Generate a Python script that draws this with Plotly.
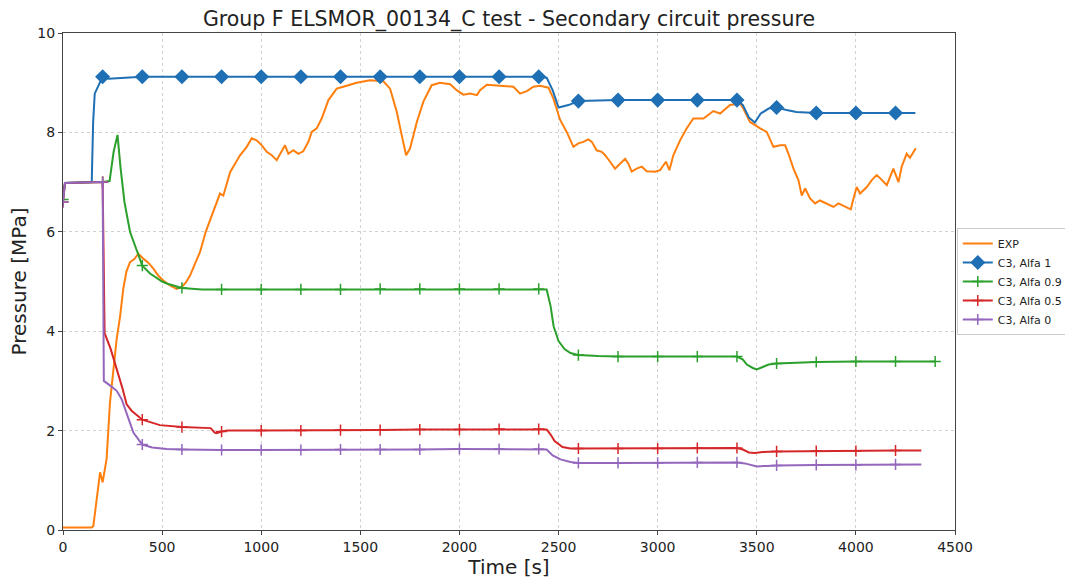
import plotly.graph_objects as go

# Experimental secondary-circuit pressure (time [s], pressure [MPa])
exp_t = [0, 50, 100, 145, 153, 170, 187, 200, 220, 237, 262, 271, 288, 304, 320, 338, 360, 380,
         405, 430, 456, 480, 506, 540, 573, 599, 620, 641, 665, 691, 720, 758, 775, 792, 809,
         843, 859, 893, 927, 952, 977, 1003, 1028, 1053, 1078, 1103, 1120, 1137, 1162, 1187,
         1212, 1238, 1255, 1280, 1305, 1339, 1381, 1414, 1450, 1481, 1549, 1616, 1650, 1684,
         1709, 1731, 1751, 1785, 1818, 1860, 1902, 1953, 1986, 2020, 2054, 2088, 2104, 2138,
         2205, 2272, 2306, 2340, 2373, 2407, 2449, 2474, 2508, 2541, 2575, 2600, 2625, 2650,
         2668, 2692, 2718, 2735, 2760, 2785, 2810, 2836, 2852, 2869, 2894, 2920, 2945, 2987,
         3012, 3042, 3059, 3079, 3113, 3146, 3180, 3231, 3281, 3315, 3365, 3416, 3432, 3466,
         3517, 3550, 3584, 3618, 3643, 3660, 3685, 3710, 3727, 3744, 3769, 3794, 3819, 3853,
         3887, 3912, 3945, 3974, 3988, 4004, 4021, 4055, 4080, 4105, 4122, 4156, 4189, 4215,
         4231, 4256, 4273, 4302]
exp_p = [0.05, 0.05, 0.05, 0.05, 0.08, 0.6, 1.16, 0.96, 1.43, 2.57, 3.58, 3.85, 4.3, 4.85, 5.2,
         5.39, 5.45, 5.56, 5.46, 5.38, 5.26, 5.12, 5.02, 4.92, 4.85, 4.89, 4.98, 5.12, 5.35,
         5.59, 6.0, 6.40, 6.6, 6.77, 6.73, 7.20, 7.31, 7.54, 7.71, 7.88, 7.84, 7.74, 7.61, 7.54,
         7.44, 7.61, 7.74, 7.57, 7.64, 7.57, 7.62, 7.81, 8.01, 8.08, 8.28, 8.65, 8.88, 8.92,
         8.97, 9.00, 9.05, 9.03, 8.88, 8.41, 7.94, 7.54, 7.68, 8.21, 8.62, 8.95, 9.00, 8.97,
         8.85, 8.76, 8.78, 8.75, 8.85, 8.96, 8.94, 8.92, 8.78, 8.83, 8.92, 8.94, 8.90, 8.68,
         8.25, 8.01, 7.71, 7.78, 7.81, 7.86, 7.81, 7.64, 7.61, 7.54, 7.41, 7.27, 7.37, 7.47,
         7.37, 7.21, 7.27, 7.31, 7.22, 7.21, 7.24, 7.41, 7.24, 7.54, 7.84, 8.08, 8.28, 8.28,
         8.43, 8.38, 8.55, 8.58, 8.48, 8.21, 8.08, 8.01, 7.71, 7.74, 7.74, 7.57, 7.27, 7.04,
         6.73, 6.87, 6.67, 6.57, 6.63, 6.57, 6.50, 6.57, 6.50, 6.45, 6.67, 6.90, 6.77, 6.90,
         7.04, 7.14, 7.08, 6.94, 7.27, 7.00, 7.31, 7.57, 7.49, 7.68]

# C3 simulation, Alfa 1
a1_t = [0, 10, 145, 152, 160, 200, 230, 300, 400, 600, 800, 1000, 1200, 1400, 1600, 1800,
        2000, 2200, 2400, 2440, 2470, 2500, 2550, 2600, 2800, 3000, 3200, 3400, 3430, 3460,
        3490, 3520, 3560, 3600, 3650, 3700, 3800, 4000, 4200, 4300]
a1_p = [6.75, 6.98, 7.0, 8.2, 8.78, 9.12, 9.08, 9.1, 9.12, 9.12, 9.12, 9.12, 9.12, 9.12, 9.12,
        9.12, 9.12, 9.12, 9.12, 9.10, 8.85, 8.5, 8.55, 8.63, 8.65, 8.65, 8.65, 8.65, 8.55, 8.3,
        8.2, 8.38, 8.48, 8.5, 8.45, 8.41, 8.39, 8.39, 8.39, 8.39]

# C3 simulation, Alfa 0.9
a09_t = [0, 10, 200, 235, 255, 275, 290, 310, 338, 380, 400, 439, 500, 523, 600, 700, 800,
         1000, 1200, 1400, 1600, 1800, 2000, 2200, 2400, 2440, 2460, 2475, 2500, 2530, 2560,
         2600, 2700, 2800, 3000, 3200, 3400, 3430, 3450, 3480, 3500, 3530, 3560, 3600, 3700,
         3800, 4000, 4200, 4400]
a09_p = [6.65, 6.98, 7.0, 7.02, 7.6, 7.95, 7.3, 6.6, 6.0, 5.53, 5.32, 5.16, 5.0, 4.96, 4.87,
         4.84, 4.84, 4.84, 4.84, 4.84, 4.85, 4.85, 4.85, 4.85, 4.85, 4.84, 4.5, 4.1, 3.8, 3.64,
         3.56, 3.52, 3.5, 3.49, 3.49, 3.49, 3.49, 3.43, 3.33, 3.26, 3.23, 3.28, 3.33, 3.35,
         3.37, 3.38, 3.39, 3.39, 3.39]

# C3 simulation, Alfa 0.5
a05_t = [0, 10, 200, 210, 240, 262, 300, 321, 346, 400, 489, 600, 700, 745, 765, 775, 800,
         830, 1000, 1200, 1400, 1600, 1800, 2000, 2200, 2400, 2440, 2460, 2480, 2520, 2560,
         2600, 2800, 3000, 3200, 3400, 3430, 3460, 3490, 3530, 3600, 3800, 4000, 4200, 4330]
a05_p = [6.6, 6.98, 7.0, 3.96, 3.65, 3.37, 2.85, 2.53, 2.40, 2.22, 2.11, 2.07, 2.06, 2.05,
         1.96, 1.95, 1.98, 2.0, 2.0, 2.0, 2.01, 2.01, 2.02, 2.02, 2.03, 2.03, 2.02, 1.92, 1.79,
         1.67, 1.64, 1.64, 1.64, 1.64, 1.65, 1.65, 1.62, 1.56, 1.55, 1.57, 1.58, 1.59, 1.59,
         1.60, 1.60]

# C3 simulation, Alfa 0
a0_t = [0, 10, 200, 206, 240, 271, 296, 330, 355, 400, 450, 523, 600, 800, 1000, 1200,
        1400, 1600, 1800, 2000, 2200, 2400, 2440, 2470, 2510, 2560, 2600, 2800, 3000, 3200,
        3400, 3440, 3480, 3500, 3550, 3600, 3800, 4000, 4200, 4330]
a0_p = [6.6, 6.98, 7.0, 3.0, 2.9, 2.80, 2.63, 2.23, 1.96, 1.72, 1.66, 1.63, 1.62, 1.61,
        1.61, 1.61, 1.62, 1.62, 1.62, 1.63, 1.63, 1.63, 1.62, 1.50, 1.42, 1.37, 1.35, 1.35,
        1.35, 1.36, 1.36, 1.34, 1.29, 1.28, 1.29, 1.30, 1.31, 1.31, 1.32, 1.32]

x_ticks = [0, 500, 1000, 1500, 2000, 2500, 3000, 3500, 4000, 4500]
y_ticks = [0, 2, 4, 6, 8, 10]

FONT = "DejaVu Sans"
fig = go.Figure()


def marked(ts, ps, start):
    # markers every 200 s, taken from the series' own samples
    mx, my = [], []
    for t, p in zip(ts, ps):
        if t >= start and t % 200 == 0:
            mx.append(t)
            my.append(p)
    return mx, my


fig.add_trace(go.Scatter(x=exp_t, y=exp_p, mode="lines", name="EXP",
                         line=dict(color="#ff7f0e", width=2)))

series = [
    ("C3, Alfa 1", a1_t, a1_p, "#1f6fb4", "diamond", 10, 200),
    ("C3, Alfa 0.9", a09_t, a09_p, "#2ca02c", "cross-thin", 8, 0),
    ("C3, Alfa 0.5", a05_t, a05_p, "#d62728", "cross-thin", 8, 0),
    ("C3, Alfa 0", a0_t, a0_p, "#9467bd", "cross-thin", 8, 0),
]

for name, ts, ps, col, sym, sz, start in series:
    fig.add_trace(go.Scatter(x=ts, y=ps, mode="lines", showlegend=False,
                             line=dict(color=col, width=2), hoverinfo="skip"))
    mx, my = marked(ts, ps, start)
    fig.add_trace(go.Scatter(x=mx, y=my, mode="markers", showlegend=False, name=name,
                             marker=dict(symbol=sym, size=sz, color=col,
                                         line=dict(color=col, width=1.5))))
    # legend entry combining line and marker
    fig.add_trace(go.Scatter(x=[None], y=[None], mode="lines+markers", name=name,
                             line=dict(color=col, width=2),
                             marker=dict(symbol=sym, size=sz, color=col,
                                         line=dict(color=col, width=1.5))))

axis_common = dict(
    showline=True, linecolor="#444444", linewidth=1, mirror=True,
    ticks="outside", ticklen=4, tickcolor="#444444",
    showgrid=True, gridcolor="#d2d2d2", griddash="dot", gridwidth=1,
    zeroline=False, tickfont=dict(family=FONT, size=14, color="#222222"),
)

fig.update_layout(
    width=1065, height=581,
    margin=dict(l=63, r=110, t=33, b=51, autoexpand=False),
    paper_bgcolor="white", plot_bgcolor="white",
    font=dict(family=FONT, color="#222222"),
    title=dict(text="Group F ELSMOR_00134_C test - Secondary circuit pressure",
               x=(63 + 955) / 2 / 1065, xanchor="center", y=0.968, yanchor="middle",
               font=dict(family=FONT, size=20.5, color="#222222")),
    xaxis=dict(range=[0, 4500], tickvals=x_ticks,
               title=dict(text="Time [s]", font=dict(family=FONT, size=20), standoff=2),
               **axis_common),
    yaxis=dict(range=[0, 10], tickvals=y_ticks,
               title=dict(text="Pressure [MPa]", font=dict(family=FONT, size=20), standoff=5),
               **axis_common),
    legend=dict(x=1.002, xanchor="left", y=0.5, yanchor="middle",
                bordercolor="#cccccc", borderwidth=1, bgcolor="white",
                font=dict(family=FONT, size=11, color="#222222"),
                itemwidth=30, tracegroupgap=0),
    showlegend=True,
)

fig.write_html("out.html")
